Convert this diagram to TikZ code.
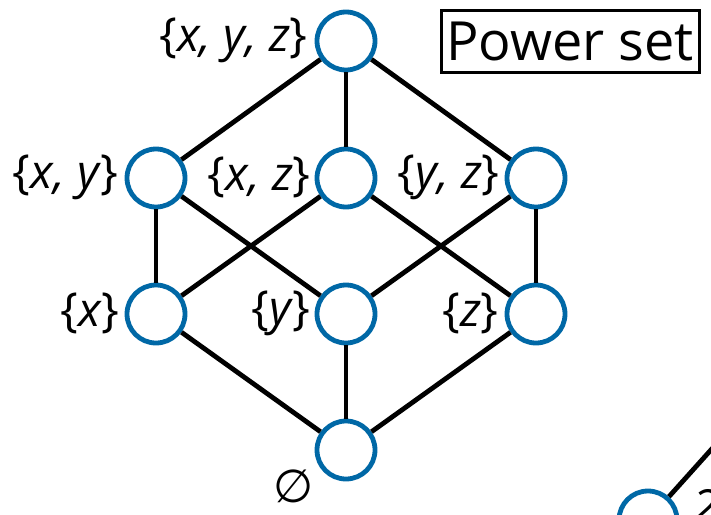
\documentclass[tikz,border=0pt]{standalone}
\usepackage{fontspec}
\setmainfont{Open Sans}
\newfontfamily\symfont{DejaVu Sans}
\definecolor{nodeblue}{HTML}{0068A6}
\newcommand{\lb}{\textup{\{}}
\newcommand{\rb}{\textup{\}}}
\begin{document}
\begin{tikzpicture}[x=1pt,y=-1pt,
  vtx/.style={circle,draw=nodeblue,line width=4.8pt,fill=white,minimum size=58pt,inner sep=0pt},
  edge/.style={line width=4.8pt,black},
  lbl/.style={font=\fontsize{47}{49}\selectfont\itshape,inner sep=0pt}]
\useasboundingbox (0,0) rectangle (711,514);
\clip (0,0) rectangle (711,514);
\coordinate (far) at (753,403);
\node[vtx] (xyz) at (346,41) {};
\node[vtx] (xy) at (156,178) {};
\node[vtx] (xz) at (346,178) {};
\node[vtx] (yz) at (536,178) {};
\node[vtx] (x) at (156,314) {};
\node[vtx] (y) at (346,314) {};
\node[vtx] (z) at (536,314) {};
\node[vtx] (e) at (346,450) {};
\node[vtx] (p) at (648,520) {};
\draw[edge] (xyz) -- (xy);
\draw[edge] (xyz) -- (xz);
\draw[edge] (xyz) -- (yz);
\draw[edge] (xy) -- (x);
\draw[edge] (xy) -- (y);
\draw[edge] (xz) -- (x);
\draw[edge] (xz) -- (z);
\draw[edge] (yz) -- (y);
\draw[edge] (yz) -- (z);
\draw[edge] (x) -- (e);
\draw[edge] (y) -- (e);
\draw[edge] (z) -- (e);
\draw[edge] (p) -- (far);
\node[lbl,anchor=east] (lxyz) at (308,40) {\lb x, y, z\rb};
\node[lbl,anchor=east] (lxy) at (119,177) {\lb x, y\rb};
\node[lbl,anchor=east] (lxz) at (311,177) {\lb x, z\rb};
\node[lbl,anchor=east] (lyz) at (500,177) {\lb y, z\rb};
\node[lbl,anchor=east] (lx) at (120,313) {\lb x\rb};
\node[lbl,anchor=east] (ly) at (311,313) {\lb y\rb};
\node[lbl,anchor=east] (lz) at (499,313) {\lb z\rb};
\node[font=\symfont\fontsize{46}{48}\selectfont,inner sep=0pt] (le) at (294,486) {∅};
\node[lbl,anchor=west] (lp) at (692,506) {2};
\node[draw,line width=3pt,font=\fontsize{54}{56}\selectfont,minimum width=258pt,minimum height=62pt,inner sep=0pt] (ps) at (570,41) {Power set};
\end{tikzpicture}
\end{document}
